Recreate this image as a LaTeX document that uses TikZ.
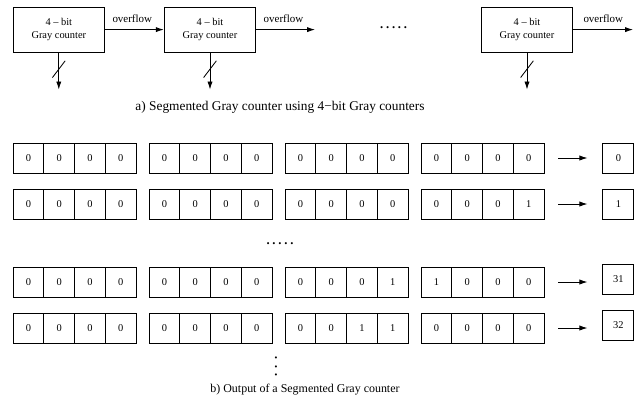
\documentclass[tikz,border=0pt]{standalone}
\usepackage{fontspec}
\setmainfont{Liberation Serif}
\usetikzlibrary{arrows.meta,calc}

\begin{document}
\begin{tikzpicture}[
  font=\fontsize{7.4}{9.4}\selectfont,
  gcbox/.style={draw, line width=0.6pt, minimum width=2.29cm, minimum height=1.125cm, align=center, inner sep=0pt},
  gccell/.style={draw, line width=0.6pt, minimum width=0.769cm, minimum height=0.75cm, inner sep=0pt},
  gcout/.style={gccell, minimum width=0.775cm},
  gcarr/.style={draw, line width=0.6pt, -{Latex[length=2mm,width=1.3mm]}},
  gcflow/.style={anchor=south west, inner sep=0pt, font=\fontsize{7.8}{9.4}\selectfont},
  gccap/.style={font=\fontsize{9.5}{11}\selectfont},
  gcdots/.style={inner sep=0pt, font=\fontsize{9}{10}\bfseries},
]
  \useasboundingbox (0,0) rectangle (16,-10.15);

  % counters
  \node[gcbox] (c1) at (1.47,-0.74)   {4 – bit\\Gray counter};
  \node[gcbox] (c2) at (5.25,-0.74)   {4 – bit\\Gray counter};
  \node[gcbox] (c3) at (13.175,-0.74) {4 – bit\\Gray counter};
  \node[gcdots] (hdots) at (9.84,-0.7) {.\hspace{0.22em}.\hspace{0.22em}.\hspace{0.22em}.\hspace{0.22em}.};

  % overflow chain
  \coordinate (o2) at (7.875,-0.74);
  \coordinate (o3) at (15.825,-0.74);
  \draw[gcarr] (c1.east) -- (c2.west);
  \draw[gcarr] (c2.east) -- (o2);
  \draw[gcarr] (c3.east) -- (o3);
  \node[gcflow] (f1) at ([xshift=0.18cm, yshift=0.17cm]c1.east) {overflow};
  \node[gcflow] (f2) at ([xshift=0.18cm, yshift=0.17cm]c2.east) {overflow};
  \node[gcflow] (f3) at ([xshift=0.25cm, yshift=0.17cm]c3.east) {overflow};

  % 4-bit outputs
  \foreach \c in {c1,c2,c3} {
    \coordinate (\c d) at ([yshift=-0.925cm]\c.south);
    \draw[gcarr] (\c.south) -- (\c d);
    \draw[line width=0.6pt] ($(\c.south)!0.45!(\c d)$) ++(-0.16,-0.21) -- ++(0.32,0.42);
  }

  \node[gccap] (capa) at (7.0,-2.675) {a) Segmented Gray counter using 4−bit Gray counters};

  % output rows
  \foreach \r/\y/\dy/\val/\bits in {
      1/-3.95/0/0/{0,0,0,0,0,0,0,0,0,0,0,0,0,0,0,0},
      2/-5.1/0/1/{0,0,0,0,0,0,0,0,0,0,0,0,0,0,0,1},
      3/-7.05/0.075/31/{0,0,0,0,0,0,0,0,0,0,0,1,1,0,0,0},
      4/-8.2/0.075/32/{0,0,0,0,0,0,0,0,0,0,1,1,0,0,0,0}} {
    \foreach \b [count=\i from 0] in \bits {
      \pgfmathsetmacro\cx{0.7095+3.4*int(\i/4)+0.769*mod(\i,4)}
      \node[gccell] (r\r c\i) at (\cx,\y) {\b};
    }
    \node[gcout] (o\r) at (15.46,\y+\dy) {\val};
    \draw[gcarr, shorten <=0.35cm, shorten >=0.375cm] (r\r c15.east) -- (r\r c15.east -| o\r.west);
  }

  \node[gcdots] (mdots) at (7.0,-6.1) {.\hspace{0.22em}.\hspace{0.22em}.\hspace{0.22em}.\hspace{0.22em}.};
  \node[gcdots, rotate=90] (vdots) at (6.9,-9.16) {.\hspace{0.45em}.\hspace{0.45em}.};

  \node[gccap, font=\fontsize{8.5}{10}\selectfont] (capb) at (7.625,-9.75) {b) Output of a Segmented Gray counter};
\end{tikzpicture}
\end{document}
